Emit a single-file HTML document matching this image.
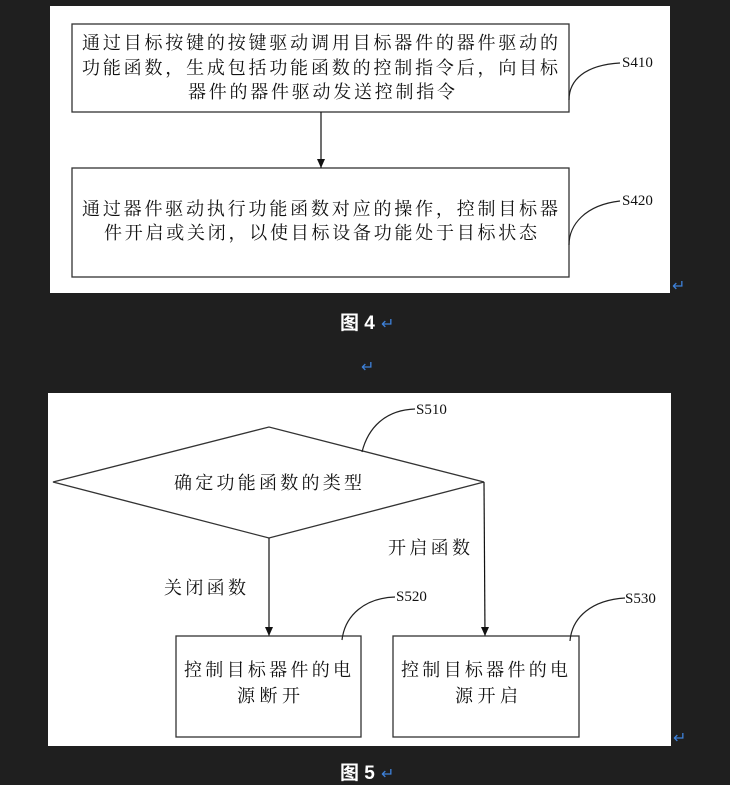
<!DOCTYPE html>
<html><head><meta charset="utf-8"><style>
body{margin:0;background:#1f1f1f;width:730px;height:785px;overflow:hidden}
svg{display:block}
.t{font-family:"Liberation Serif","Noto Serif CJK SC",serif;font-size:18px;fill:#111}
.s{font-family:"Liberation Serif",serif;font-size:15px;fill:#111}
.c{font-family:"Liberation Sans","Noto Sans CJK SC",sans-serif;font-size:19px;font-weight:bold;fill:#fff}
.r{font-family:"Liberation Sans",sans-serif;font-size:16px;fill:#3d7fd6}
</style></head><body>
<svg width="730" height="785" viewBox="0 0 730 785">
<defs><marker id="d" markerWidth="10" markerHeight="10" refX="5" refY="9" markerUnits="userSpaceOnUse"><path d="M1,0 L9,0 L5,9z" fill="#111"/></marker></defs>
<rect x="50" y="6" width="620" height="287" fill="#fff"/>
<rect x="72" y="24" width="497" height="88" fill="none" stroke="#333" stroke-width="1.3"/>
<rect x="72" y="168" width="497" height="109" fill="none" stroke="#333" stroke-width="1.3"/>
<line x1="321" y1="112" x2="321" y2="168" stroke="#111" stroke-width="1.2" marker-end="url(#d)"/>
<text class="t" x="82" y="49" textLength="476" lengthAdjust="spacing">通过目标按键的按键驱动调用目标器件的器件驱动的</text>
<text class="t" x="82" y="74" textLength="476" lengthAdjust="spacing">功能函数，生成包括功能函数的控制指令后，向目标</text>
<text class="t" x="188" y="98" textLength="267" lengthAdjust="spacing">器件的器件驱动发送控制指令</text>
<text class="t" x="82" y="215" textLength="476" lengthAdjust="spacing">通过器件驱动执行功能函数对应的操作，控制目标器</text>
<text class="t" x="104" y="239" textLength="433" lengthAdjust="spacing">件开启或关闭，以使目标设备功能处于目标状态</text>
<path d="M569,100 C569,80 585,65 620,63" fill="none" stroke="#222" stroke-width="1.2"/>
<text class="s" x="622" y="67">S410</text>
<path d="M569,245 C569,225 585,205 620,201" fill="none" stroke="#222" stroke-width="1.2"/>
<text class="s" x="622" y="205">S420</text>
<text class="r" x="672" y="291">↵</text>
<text class="c" x="340" y="329">图 4</text><text class="r" x="381" y="329">↵</text>
<text class="r" x="361" y="372">↵</text>
<rect x="48" y="393" width="623" height="353" fill="#fff"/>
<polygon points="53,482 269,427 484,482 269,538" fill="none" stroke="#333" stroke-width="1.3"/>
<text class="t" x="174" y="489" textLength="188" lengthAdjust="spacing">确定功能函数的类型</text>
<line x1="269" y1="538" x2="269" y2="636" stroke="#111" stroke-width="1.2" marker-end="url(#d)"/>
<line x1="484" y1="482" x2="485" y2="636" stroke="#111" stroke-width="1.2" marker-end="url(#d)"/>
<rect x="176" y="636" width="185" height="101" fill="none" stroke="#333" stroke-width="1.3"/>
<rect x="393" y="636" width="186" height="101" fill="none" stroke="#333" stroke-width="1.3"/>
<text class="t" x="184" y="676" textLength="167" lengthAdjust="spacing">控制目标器件的电</text>
<text class="t" x="237" y="702" textLength="63" lengthAdjust="spacing">源断开</text>
<text class="t" x="401" y="676" textLength="167" lengthAdjust="spacing">控制目标器件的电</text>
<text class="t" x="455" y="702" textLength="63" lengthAdjust="spacing">源开启</text>
<text class="t" x="164" y="594" textLength="82" lengthAdjust="spacing">关闭函数</text>
<text class="t" x="388" y="554" textLength="82" lengthAdjust="spacing">开启函数</text>
<path d="M362,452 C368,428 385,410 415,409" fill="none" stroke="#222" stroke-width="1.2"/>
<text class="s" x="416" y="414">S510</text>
<path d="M342,640 C345,615 365,598 395,597" fill="none" stroke="#222" stroke-width="1.2"/>
<text class="s" x="396" y="601">S520</text>
<path d="M570,641 C572,617 592,600 625,598" fill="none" stroke="#222" stroke-width="1.2"/>
<text class="s" x="625" y="603">S530</text>
<text class="r" x="673" y="743">↵</text>
<text class="c" x="340" y="779">图 5</text><text class="r" x="381" y="779">↵</text>
</svg>
</body></html>
